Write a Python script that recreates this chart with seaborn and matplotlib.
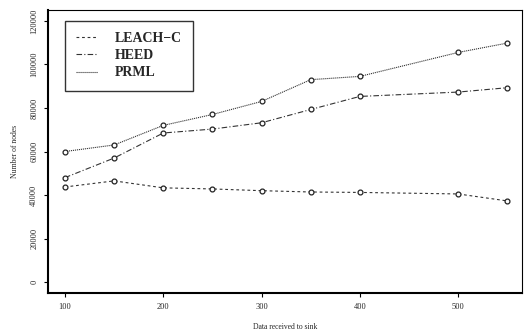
import matplotlib
matplotlib.use("Agg")
import matplotlib.pyplot as plt
import seaborn as sns
import pandas as pd

data_received = [100, 150, 200, 250, 300, 350, 400, 500, 550]
leach_c = [43700, 46500, 43300, 42800, 42000, 41400, 41200, 40500, 37300]
heed = [48000, 57000, 68500, 70300, 73200, 79300, 85300, 87300, 89300]
prml = [60000, 63000, 72000, 77000, 83000, 93000, 94500, 105500, 109800]
series_names = ["LEACH\u2212C", "HEED", "PRML"]
y_ticks = [0, 20000, 40000, 60000, 80000, 100000, 120000]
x_ticks = [100, 200, 300, 400, 500]

rows = []
for name, vals in zip(series_names, [leach_c, heed, prml]):
    for x, v in zip(data_received, vals):
        rows.append({"x": x, "y": v, "protocol": name})
df = pd.DataFrame(rows)

sns.set_style("ticks")
plt.rcParams["font.family"] = ["Liberation Serif", "DejaVu Serif"]

fig = plt.figure(figsize=(5.24, 3.30), dpi=100)
ax = fig.add_axes([48 / 524, 1 - 293 / 330, (522 - 48) / 524, (293 - 10) / 330])

dashes = {
    series_names[0]: (2.5, 2.5),
    series_names[1]: (5, 2, 1, 2),
    series_names[2]: (1, 0.8),
}
sns.lineplot(
    data=df, x="x", y="y", hue="protocol", style="protocol",
    palette={n: "#333333" for n in series_names},
    dashes=dashes, markers={n: "o" for n in series_names},
    markersize=3.5, markerfacecolor="white", markeredgecolor="#222222",
    markeredgewidth=0.9, linewidth=0.8, ax=ax, legend=True,
)

ax.set_xlim(82.7, 565)
ax.set_ylim(-5000, 125000)
ax.set_xticks(x_ticks)
ax.set_yticks(y_ticks)
ax.set_xticklabels([str(t) for t in x_ticks], fontsize=6)
ax.set_yticklabels([str(t) for t in y_ticks], fontsize=6, rotation=90, va="center")
ax.tick_params(axis="both", length=3, width=0.8, color="black", pad=4)
ax.set_xlabel("Data received to sink", fontsize=5.5, labelpad=9)
ax.set_ylabel("Number of nodes", fontsize=5.5, labelpad=8)
for s in ax.spines.values():
    s.set_color("black")
    s.set_linewidth(0.8)
ax.spines["left"].set_linewidth(1.5)
ax.spines["bottom"].set_linewidth(1.5)

handles, labels = ax.get_legend_handles_labels()
for h in handles:
    h.set_marker("")
leg = ax.legend(
    handles, labels, loc="upper left", bbox_to_anchor=(17 / 474, 1 - 11 / 283),
    frameon=True, fancybox=False, edgecolor="black", fontsize=10,
    handlelength=1.6, handletextpad=1.2, labelspacing=0.3,
    borderpad=0.8, borderaxespad=0,
)
leg.get_frame().set_linewidth(1.0)
for t in leg.get_texts():
    t.set_fontweight("bold")

fig.savefig("out.png", dpi=100)
